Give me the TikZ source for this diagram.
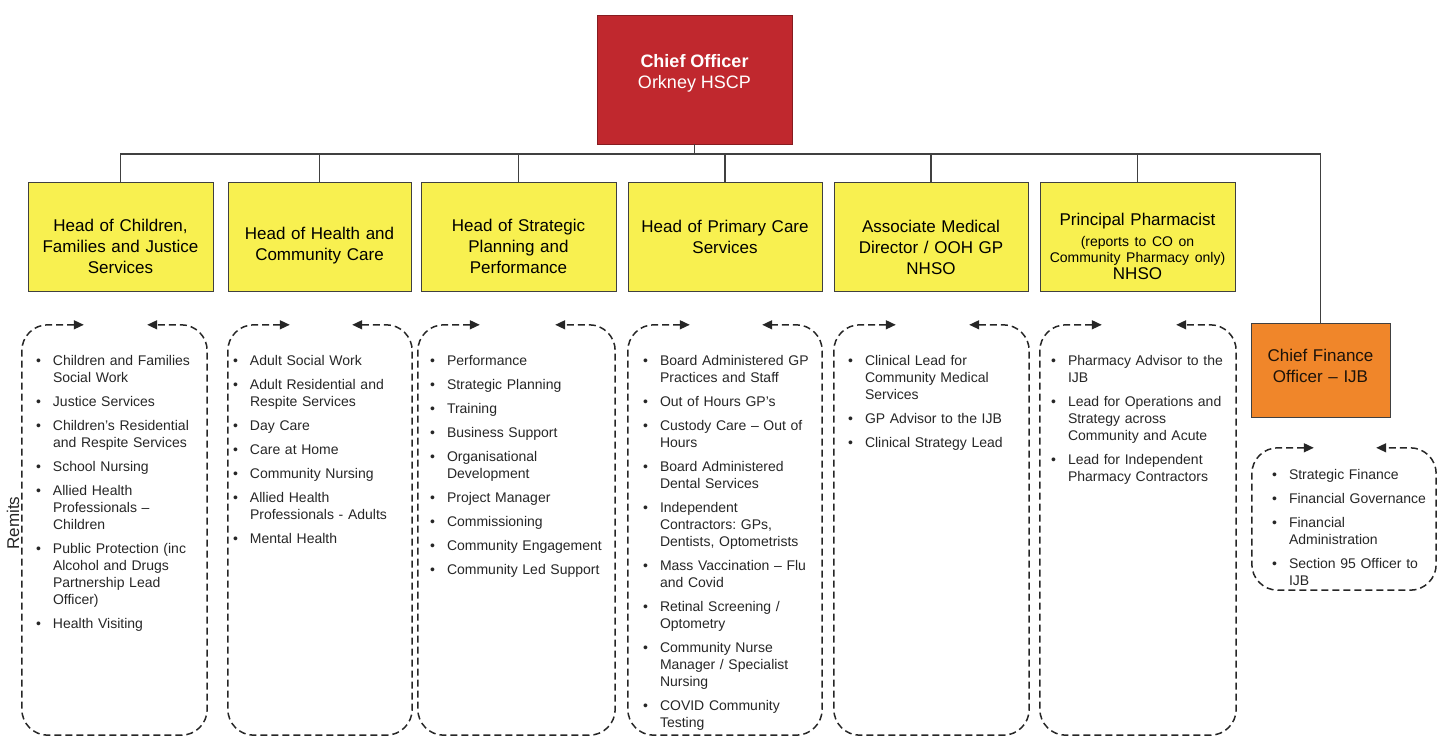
\documentclass[tikz,border=0pt]{standalone}
\usepackage{fontspec}
\setmainfont{Liberation Sans}
\usetikzlibrary{arrows.meta,calc,positioning}
\frenchspacing
\definecolor{coRed}{RGB}{192,40,46}
\definecolor{hdYellow}{RGB}{248,240,80}
\definecolor{cfoOrange}{RGB}{240,134,42}
\definecolor{lineGrey}{RGB}{64,64,64}
\newcommand\hdfont{\fontsize{17}{21}\selectfont}
\newcommand\smfont{\fontsize{14}{16}\selectfont}
\newcommand\lsfont{\fontsize{14}{17}\selectfont}
% one remit line: bullet, then hanging lines
\newcommand\rmitem[1]{\par\hangindent=17pt\hangafter=1\noindent\strut\makebox[17pt][l]{\textbullet}#1\par\vskip7pt}
\tikzset{hd/.style={draw=lineGrey, line width=0.9pt, fill=hdYellow, minimum height=109pt, inner sep=0pt},
  hdtxt/.style={font=\hdfont, align=center, text width=190pt, inner sep=0pt},
  link/.style={draw=lineGrey, line width=1.4pt},
  rmarea/.style 2 args={minimum width=#1, minimum height=#2, inner sep=0pt},
  frame/.style={draw=black!85, line width=1.5pt, dash pattern=on 7pt off 4pt, rounded corners=26pt,
    {Triangle[length=10pt,width=9pt]}-{Triangle[length=10pt,width=9pt]}},
  rmlist/.style={anchor=north west, inner sep=0pt, text width=200pt, align=left, font=\lsfont, text=black!85}}

\begin{document}
\begin{tikzpicture}[x=1pt, y={(0,-1pt)}]
  \useasboundingbox (0,0) rectangle (1447,738);
  % chief officer and the heads below
  \node[draw=coRed!70!black, fill=coRed, minimum width=195pt, minimum height=129pt] (co) at (694.5,79.5) {};
  \node[font=\fontsize{18}{21}\selectfont, text=white, align=center] (co-t) at ($(co.center)+(0,-6.5)$) {\textbf{Chief Officer}\\Orkney HSCP};
  \node[hd, minimum width=185pt] (h1) at (120.5,236.5) {};
  \node[hd, minimum width=183pt] (h2) at (319.5,236.5) {};
  \node[hd, minimum width=195pt] (h3) at (518.5,236.5) {};
  \node[hd, minimum width=194pt] (h4) at (725,236.5) {};
  \node[hd, minimum width=194pt] (h5) at (931,236.5) {};
  \node[hd, minimum width=195pt] (h6) at (1137.5,236.5) {};
  \node[draw=lineGrey, line width=0.9pt, fill=cfoOrange, minimum width=139pt, minimum height=94pt] (cfo) at (1320.5,370) {};
  \node[hdtxt] (h1-t) at ($(h1.center)+(0,9.5)$) {Head of Children,\\Families and Justice\\Services};
  \node[hdtxt] (h2-t) at ($(h2.center)+(0,9.5)$) {Head of Health and\\Community Care};
  \node[hdtxt] (h3-t) at ($(h3.center)+(0,9.5)$) {Head of Strategic\\Planning and\\Performance};
  \node[hdtxt] (h4-t) at ($(h4.center)+(0,0)$) {Head of Primary Care\\Services};
  \node[hdtxt] (h5-t) at ($(h5.center)+(0,10.5)$) {Associate Medical\\Director / OOH GP\\NHSO};
  \node[hdtxt] (h6-t) at ($(h6.center)+(0,9.5)$) {Principal Pharmacist\\[5pt]\smfont (reports to CO on\\Community Pharmacy only)\\[-4pt]\hdfont NHSO};
  \node[hdtxt, text width=135pt, text=black!85!brown] (cfo-t) at ($(cfo.center)+(0,-4.5)$) {Chief Finance\\Officer -- IJB};
  \foreach \h in {h1,h2,h3,h4,h5,h6,cfo}
    \draw[link] (co.south) -- ++(0,10) -| (\h.north);
  % remit areas
  \node[rmarea={185pt}{410pt}] (r1) at (114.5,530) {};
  \node[rmarea={184pt}{410pt}] (r2) at (320,530) {};
  \node[rmarea={197pt}{410pt}] (r3) at (516.5,530) {};
  \node[rmarea={194pt}{410pt}] (r4) at (725,530) {};
  \node[rmarea={195pt}{410pt}] (r5) at (931.5,530) {};
  \node[rmarea={196pt}{410pt}] (r6) at (1138,530) {};
  \node[rmarea={184pt}{142pt}] (r7) at (1344,519) {};
  \foreach \r in {r1,r2,r3,r4,r5,r6,r7}
    \draw[frame] ($(\r.north west)+(62,0)$) -- (\r.north west) -- (\r.south west)
      -- (\r.south east) -- (\r.north east) -- ($(\r.north east)+(-60,0)$);
  \node[rotate=90, font=\hdfont, text=black!85] (rm) at (13,523) {Remits};
  \node[rmlist] (l1) at ($(r1.north west)+(14,23)$) {%
    \rmitem{Children and Families\newline Social Work}
    \rmitem{Justice Services}
    \rmitem{Children's Residential\newline and Respite Services}
    \rmitem{School Nursing}
    \rmitem{Allied Health\newline Professionals --\newline Children}
    \rmitem{Public Protection (inc\newline Alcohol and Drugs\newline Partnership Lead\newline Officer)}
    \rmitem{Health Visiting}};
  \node[rmlist] (l2) at ($(r2.north west)+(5,23)$) {%
    \rmitem{Adult Social Work}
    \rmitem{Adult Residential and\newline Respite Services}
    \rmitem{Day Care}
    \rmitem{Care at Home}
    \rmitem{Community Nursing}
    \rmitem{Allied Health\newline Professionals - Adults}
    \rmitem{Mental Health}};
  \node[rmlist] (l3) at ($(r3.north west)+(12,23)$) {%
    \rmitem{Performance}
    \rmitem{Strategic Planning}
    \rmitem{Training}
    \rmitem{Business Support}
    \rmitem{Organisational\newline Development}
    \rmitem{Project Manager}
    \rmitem{Commissioning}
    \rmitem{Community Engagement}
    \rmitem{Community Led Support}};
  \node[rmlist] (l4) at ($(r4.north west)+(15,23)$) {%
    \rmitem{Board Administered GP\newline Practices and Staff}
    \rmitem{Out of Hours GP's}
    \rmitem{Custody Care -- Out of\newline Hours}
    \rmitem{Board Administered\newline Dental Services}
    \rmitem{Independent\newline Contractors: GPs,\newline Dentists, Optometrists}
    \rmitem{Mass Vaccination -- Flu\newline and Covid}
    \rmitem{Retinal Screening /\newline Optometry}
    \rmitem{Community Nurse\newline Manager / Specialist\newline Nursing}
    \rmitem{COVID Community\newline Testing}};
  \node[rmlist] (l5) at ($(r5.north west)+(14,23)$) {%
    \rmitem{Clinical Lead for\newline Community Medical\newline Services}
    \rmitem{GP Advisor to the IJB}
    \rmitem{Clinical Strategy Lead}};
  \node[rmlist] (l6) at ($(r6.north west)+(11,23)$) {%
    \rmitem{Pharmacy Advisor to the\newline IJB}
    \rmitem{Lead for Operations and\newline Strategy across\newline Community and Acute}
    \rmitem{Lead for Independent\newline Pharmacy Contractors}};
  \node[rmlist] (l7) at ($(r7.north west)+(20,14)$) {%
    \rmitem{Strategic Finance}
    \rmitem{Financial Governance}
    \rmitem{Financial\newline Administration}
    \rmitem{Section 95 Officer to\newline IJB}};
\end{tikzpicture}
\end{document}
